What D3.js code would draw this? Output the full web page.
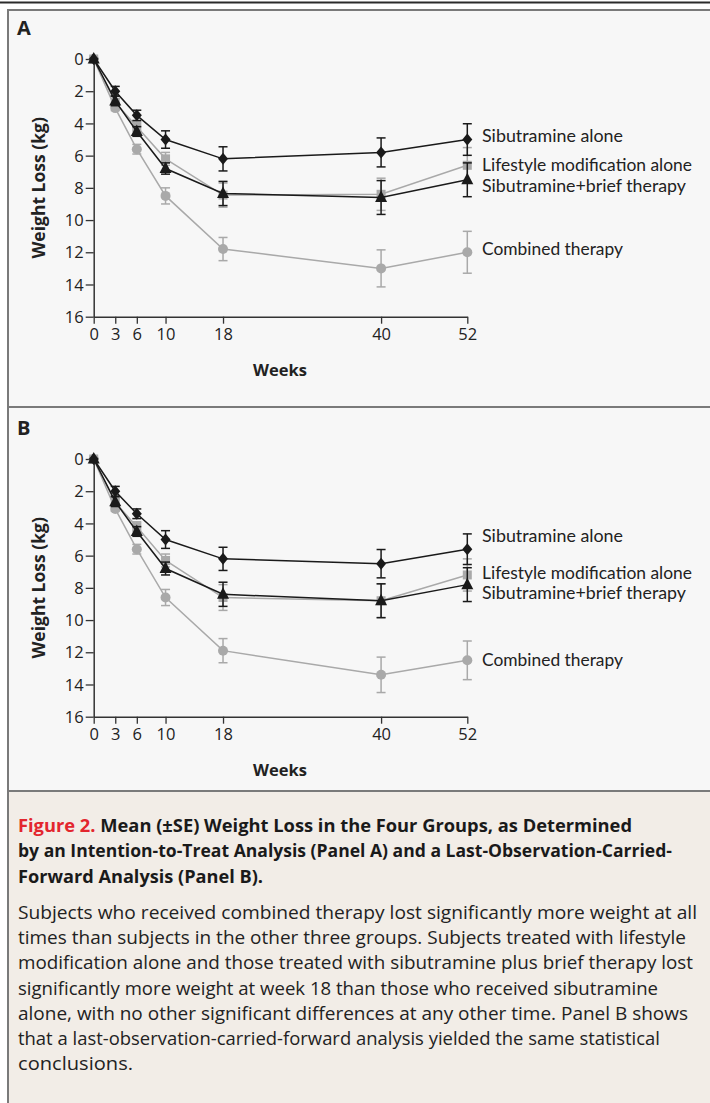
<!DOCTYPE html>
<html><head><meta charset="utf-8">
<script src="https://cdn.jsdelivr.net/npm/d3@7"></script>
<style>
html,body{margin:0;padding:0;background:#fff;}
svg{display:block;}
text{font-family:"Open Sans",sans-serif;fill:#222;}
</style></head>
<body>
<script>
// ---------- DATA ----------
const weeks = [0, 3, 6, 10, 18, 40, 52];
const yTicks = [0, 2, 4, 6, 8, 10, 12, 14, 16];
const xTicks = [0, 3, 6, 10, 18, 40, 52];
const seriesNames = ["Sibutramine alone", "Lifestyle modification alone", "Sibutramine+brief therapy", "Combined therapy"];

// Panel A (intention-to-treat)
const aSibMean   = [0, 2.0, 3.5, 5.0, 6.2, 5.8, 5.0];
const aSibSE     = [0, 0.3, 0.32, 0.54, 0.75, 0.9, 0.98];
const aLifeMean  = [0, 2.7, 4.2, 6.2, 8.45, 8.4, 6.6];
const aLifeSE    = [0, 0.25, 0.3, 0.4, 0.75, 1.0, 1.1];
const aBriefMean = [0, 2.6, 4.5, 6.8, 8.35, 8.6, 7.5];
const aBriefSE   = [0, 0.3, 0.3, 0.35, 0.75, 1.05, 1.05];
const aCombMean  = [0, 3.05, 5.6, 8.5, 11.8, 13.0, 12.0];
const aCombSE    = [0, 0.15, 0.3, 0.5, 0.72, 1.15, 1.3];
const aLabelKg   = [4.78, 6.58, 7.89, 11.8];

// Panel B (last observation carried forward)
const bSibMean   = [0, 2.0, 3.4, 5.0, 6.2, 6.5, 5.6];
const bSibSE     = [0, 0.3, 0.3, 0.55, 0.72, 0.88, 0.95];
const bLifeMean  = [0, 2.7, 4.2, 6.3, 8.6, 8.8, 7.2];
const bLifeSE    = [0, 0.25, 0.3, 0.4, 0.8, 1.05, 1.0];
const bBriefMean = [0, 2.65, 4.5, 6.8, 8.4, 8.8, 7.8];
const bBriefSE   = [0, 0.3, 0.3, 0.4, 0.75, 1.05, 1.05];
const bCombMean  = [0, 3.1, 5.6, 8.6, 11.9, 13.4, 12.5];
const bCombSE    = [0, 0.15, 0.3, 0.5, 0.75, 1.1, 1.2];
const bLabelKg   = [4.78, 7.1, 8.36, 12.48];

const captionTitle = [
  ["Figure 2.", " Mean (±SE) Weight Loss in the Four Groups, as Determined"],
  ["", "by an Intention-to-Treat Analysis (Panel A) and a Last-Observation-Carried-"],
  ["", "Forward Analysis (Panel B)."]
];
const captionBody = [
  "Subjects who received combined therapy lost significantly more weight at all",
  "times than subjects in the other three groups. Subjects treated with lifestyle",
  "modification alone and those treated with sibutramine plus brief therapy lost",
  "significantly more weight at week 18 than those who received sibutramine",
  "alone, with no other significant differences at any other time. Panel B shows",
  "that a last-observation-carried-forward analysis yielded the same statistical",
  "conclusions."
];

// ---------- LAYOUT ----------
const W = 710, H = 1103;
const svg = d3.select("body").append("svg").attr("width", W).attr("height", H);

svg.append("rect").attr("x", 0).attr("y", 0).attr("width", W).attr("height", H).attr("fill", "#fff");
svg.append("rect").attr("x", 8).attr("y", 10).attr("width", W).attr("height", 781).attr("fill", "#f7f7f7");
svg.append("rect").attr("x", 8).attr("y", 791).attr("width", W).attr("height", H - 791).attr("fill", "#f2ede7");
svg.append("line").attr("x1", 0).attr("x2", W).attr("y1", 2.5).attr("y2", 2.5).attr("stroke", "#2b2b2b").attr("stroke-width", 2);
const bc = "#7a7a7a";
svg.append("line").attr("x1", 8).attr("x2", W).attr("y1", 10).attr("y2", 10).attr("stroke", bc).attr("stroke-width", 2);
svg.append("line").attr("x1", 8).attr("x2", 8).attr("y1", 9).attr("y2", H).attr("stroke", bc).attr("stroke-width", 2);
svg.append("line").attr("x1", 8).attr("x2", W).attr("y1", 407).attr("y2", 407).attr("stroke", bc).attr("stroke-width", 2);
svg.append("line").attr("x1", 8).attr("x2", W).attr("y1", 791).attr("y2", 791).attr("stroke", bc).attr("stroke-width", 2);

const x = d3.scaleLinear().domain([0, 52]).range([93.7, 467.3]);
const black = "#1a1a1a", gray = "#a9a9a9";
const labelWidths = [141, 210, 204, 141];

function drawPanel(letter, top, data, labelKg) {
  const y0 = top + 49;
  const y = d3.scaleLinear().domain([0, 16]).range([y0, y0 + 257.7]);
  const g = svg.append("g");

  g.append("text").attr("x", 17).attr("y", top + 25).attr("font-size", 20).attr("font-weight", 700)
    .attr("fill", "#1a1a1a").text(letter);

  const ya = g.append("g").attr("transform", `translate(${x(0)},0)`)
    .call(d3.axisLeft(y).tickValues(yTicks).tickSize(8).tickSizeOuter(0).tickPadding(2));
  const xa = g.append("g").attr("transform", `translate(0,${y(16)})`)
    .call(d3.axisBottom(x).tickValues(xTicks).tickSize(7).tickSizeOuter(0).tickPadding(5));
  [ya, xa].forEach(a => {
    a.attr("font-size", null).attr("font-family", null);
    a.select(".domain").attr("stroke", "#333").attr("stroke-width", 1.5);
    a.selectAll(".tick line").attr("stroke", "#333").attr("stroke-width", 1.3);
    a.selectAll(".tick text").style("font-size", "16.5px").style("font-family", "Open Sans").attr("fill", "#222");
  });
  ya.selectAll(".tick text").attr("dy", "0.34em");

  g.append("text").attr("transform", `translate(45,${(y(0) + y(16)) / 2}) rotate(-90)`)
    .attr("text-anchor", "middle").style("font-size", "17.5px").attr("font-weight", 700).text("Weight Loss (kg)");
  g.append("text").attr("x", 280).attr("y", y(16) + 59).attr("text-anchor", "middle")
    .style("font-size", "16.5px").attr("font-weight", 700).text("Weeks");

  const line = d3.line().x((d, i) => x(weeks[i])).y(d => y(d));

  const order = [3, 1, 2, 0];
  const colors = [black, gray, black, gray];
  const shapes = ["diamond", "square", "triangle", "circle"];

  order.forEach(si => {
    const s = data[si], c = colors[si];
    const sg = g.append("g");
    sg.append("path").attr("d", line(s.mean)).attr("fill", "none").attr("stroke", c).attr("stroke-width", 1.5);
    s.mean.forEach((m, i) => {
      const se = s.se[i];
      if (se <= 0) return;
      const cx = x(weeks[i]);
      const yt = y(m - se), yb = y(m + se);
      sg.append("line").attr("x1", cx).attr("x2", cx).attr("y1", yt).attr("y2", yb).attr("stroke", c).attr("stroke-width", 1.5);
      [yt, yb].forEach(yy => sg.append("line").attr("x1", cx - 4.5).attr("x2", cx + 4.5).attr("y1", yy).attr("y2", yy)
        .attr("stroke", c).attr("stroke-width", 1.5));
    });
    s.mean.forEach((m, i) => {
      const cx = x(weeks[i]), cy = y(m);
      const sh = shapes[si];
      if (sh === "diamond") {
        sg.append("path").attr("d", `M${cx},${cy - 6}L${cx + 5},${cy}L${cx},${cy + 6}L${cx - 5},${cy}Z`).attr("fill", c);
      } else if (sh === "square") {
        sg.append("rect").attr("x", cx - 4.5).attr("y", cy - 4.5).attr("width", 9).attr("height", 9).attr("fill", c);
      } else if (sh === "triangle") {
        sg.append("path").attr("d", `M${cx},${cy - 7}L${cx + 6},${cy + 4.5}L${cx - 6},${cy + 4.5}Z`).attr("fill", c);
      } else {
        sg.append("circle").attr("cx", cx).attr("cy", cy).attr("r", 5).attr("fill", c);
      }
    });
  });

  seriesNames.forEach((n, i) => {
    g.append("text").attr("x", 482).attr("y", y(labelKg[i])).attr("dy", "0.35em")
      .style("font-family", "Lato").style("font-size", "16.5px").attr("fill", "#222")
      .attr("textLength", labelWidths[i]).attr("lengthAdjust", "spacingAndGlyphs").text(n);
  });
}

drawPanel("A", 10, [
  {mean: aSibMean, se: aSibSE}, {mean: aLifeMean, se: aLifeSE},
  {mean: aBriefMean, se: aBriefSE}, {mean: aCombMean, se: aCombSE}], aLabelKg);
drawPanel("B", 410, [
  {mean: bSibMean, se: bSibSE}, {mean: bLifeMean, se: bLifeSE},
  {mean: bBriefMean, se: bBriefSE}, {mean: bCombMean, se: bCombSE}], bLabelKg);

// ---------- CAPTION ----------
const titleLens = [614, 654, 245];
captionTitle.forEach((ln, i) => {
  const t = svg.append("text").attr("x", 18).attr("y", 832 + i * 25.3).style("font-size", "18px").attr("font-weight", 700)
    .attr("textLength", titleLens[i]).attr("lengthAdjust", "spacingAndGlyphs");
  if (ln[0]) t.append("tspan").attr("fill", "#e3262e").text(ln[0]);
  t.append("tspan").attr("fill", "#1a1a1a").text(ln[1]);
});
const bodyLens = [679, 668, 675, 640, 670, 642, 115];
captionBody.forEach((ln, i) => {
  svg.append("text").attr("x", 18).attr("y", 919 + i * 25.2).style("font-size", "18px")
    .attr("fill", "#2a2a2a").attr("textLength", bodyLens[i]).attr("lengthAdjust", "spacingAndGlyphs").text(ln);
});
</script>
</body></html>
